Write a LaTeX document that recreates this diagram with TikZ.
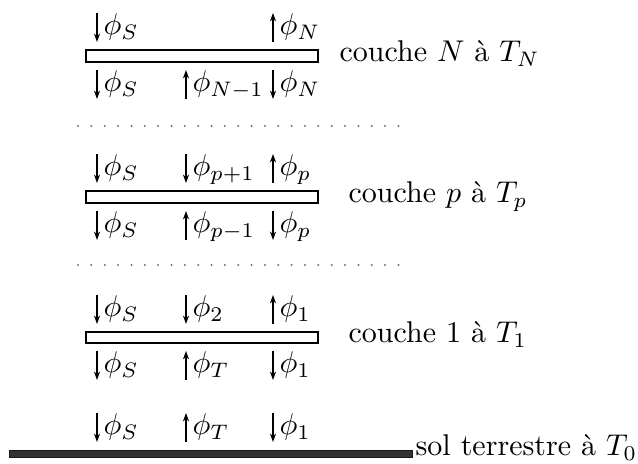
\documentclass[tikz,border=0pt]{standalone}
\usepackage{fontspec}
\usetikzlibrary{arrows.meta}
\begin{document}
\begin{tikzpicture}[x=0.3333pt,y=-0.3333pt,font=\fontsize{10}{12}\selectfont]
\tikzset{
  layerbar/.style={draw=black,fill=white,line width=0.4pt},
  groundbar/.style={draw=black!90,fill=black!80,line width=0.3pt},
  flux/.style={anchor=base west,inner sep=0pt},
  lbl/.style={anchor=base west,inner sep=0pt},
  farrow/.style={line width=0.45pt,-{Stealth[length=2.8pt,width=2pt]}},
  dotrow/.style={draw=black!55,line width=0.75pt,line cap=round,dash pattern=on 0pt off 4.45pt}
}
\useasboundingbox (0,0) rectangle (638,464);
% ---------- layer N ----------
\draw[layerbar] (86,50) rectangle (318,62);
\node[flux] (aN1) at (103,35) {$\phi_S$};
\node[flux] (aN2) at (279,35) {$\phi_N$};
\node[flux] (bN1) at (103,92) {$\phi_S$};
\node[flux] (bN2) at (192,92) {$\phi_{N-1}$};
\node[flux] (bN3) at (279,92) {$\phi_N$};
\coordinate (aN1t) at (97,13); \coordinate (aN1b) at (97,42);
\coordinate (aN2t) at (273,13); \coordinate (aN2b) at (273,42);
\coordinate (bN1t) at (97,70); \coordinate (bN1b) at (97,99);
\coordinate (bN2t) at (186,70); \coordinate (bN2b) at (186,99);
\coordinate (bN3t) at (273,70); \coordinate (bN3b) at (273,99);
\draw[farrow] (aN1t) -- (aN1b);
\draw[farrow] (aN2b) -- (aN2t);
\draw[farrow] (bN1t) -- (bN1b);
\draw[farrow] (bN2b) -- (bN2t);
\draw[farrow] (bN3t) -- (bN3b);
\node[lbl] (lN) at (339,62) {couche $N$ à $T_N$};
% dots
\coordinate (d1a) at (78,126); \coordinate (d1b) at (410,126);
\draw[dotrow] (d1a) -- (d1b);
% ---------- layer p ----------
\draw[layerbar] (86,191) rectangle (318,203);
\node[flux] (ap1) at (103,176) {$\phi_S$};
\node[flux] (ap2) at (192,176) {$\phi_{p+1}$};
\node[flux] (ap3) at (279,176) {$\phi_p$};
\node[flux] (bp1) at (103,233) {$\phi_S$};
\node[flux] (bp2) at (192,233) {$\phi_{p-1}$};
\node[flux] (bp3) at (279,233) {$\phi_p$};
\coordinate (ap1t) at (97,154); \coordinate (ap1b) at (97,183);
\coordinate (ap2t) at (186,154); \coordinate (ap2b) at (186,183);
\coordinate (ap3t) at (273,154); \coordinate (ap3b) at (273,183);
\coordinate (bp1t) at (97,211); \coordinate (bp1b) at (97,240);
\coordinate (bp2t) at (186,211); \coordinate (bp2b) at (186,240);
\coordinate (bp3t) at (273,211); \coordinate (bp3b) at (273,240);
\draw[farrow] (ap1t) -- (ap1b);
\draw[farrow] (ap2t) -- (ap2b);
\draw[farrow] (ap3b) -- (ap3t);
\draw[farrow] (bp1t) -- (bp1b);
\draw[farrow] (bp2b) -- (bp2t);
\draw[farrow] (bp3t) -- (bp3b);
\node[lbl] (lp) at (348,203) {couche $p$ à $T_p$};
% dots
\coordinate (d2a) at (78,265); \coordinate (d2b) at (410,265);
\draw[dotrow] (d2a) -- (d2b);
% ---------- layer 1 ----------
\draw[layerbar] (86,332) rectangle (318,343);
\node[flux] (a11) at (103,317) {$\phi_S$};
\node[flux] (a12) at (192,317) {$\phi_2$};
\node[flux] (a13) at (279,317) {$\phi_1$};
\node[flux] (b11) at (103,373) {$\phi_S$};
\node[flux] (b12) at (192,373) {$\phi_T$};
\node[flux] (b13) at (279,373) {$\phi_1$};
\coordinate (a11t) at (97,295); \coordinate (a11b) at (97,324);
\coordinate (a12t) at (186,295); \coordinate (a12b) at (186,324);
\coordinate (a13t) at (273,295); \coordinate (a13b) at (273,324);
\coordinate (b11t) at (97,351); \coordinate (b11b) at (97,380);
\coordinate (b12t) at (186,351); \coordinate (b12b) at (186,380);
\coordinate (b13t) at (273,351); \coordinate (b13b) at (273,380);
\draw[farrow] (a11t) -- (a11b);
\draw[farrow] (a12t) -- (a12b);
\draw[farrow] (a13b) -- (a13t);
\draw[farrow] (b11t) -- (b11b);
\draw[farrow] (b12b) -- (b12t);
\draw[farrow] (b13t) -- (b13b);
\node[lbl] (l1) at (348,343) {couche 1 à $T_1$};
% ---------- ground ----------
\draw[groundbar] (9,450) rectangle (412,457);
\node[flux] (g1) at (103,435) {$\phi_S$};
\node[flux] (g2) at (192,435) {$\phi_T$};
\node[flux] (g3) at (279,435) {$\phi_1$};
\coordinate (g1t) at (97,413); \coordinate (g1b) at (97,442);
\coordinate (g2t) at (186,413); \coordinate (g2b) at (186,442);
\coordinate (g3t) at (273,413); \coordinate (g3b) at (273,442);
\draw[farrow] (g1t) -- (g1b);
\draw[farrow] (g2b) -- (g2t);
\draw[farrow] (g3t) -- (g3b);
\node[lbl] (lg) at (415,456) {sol terrestre à $T_0$};
\end{tikzpicture}
\end{document}
